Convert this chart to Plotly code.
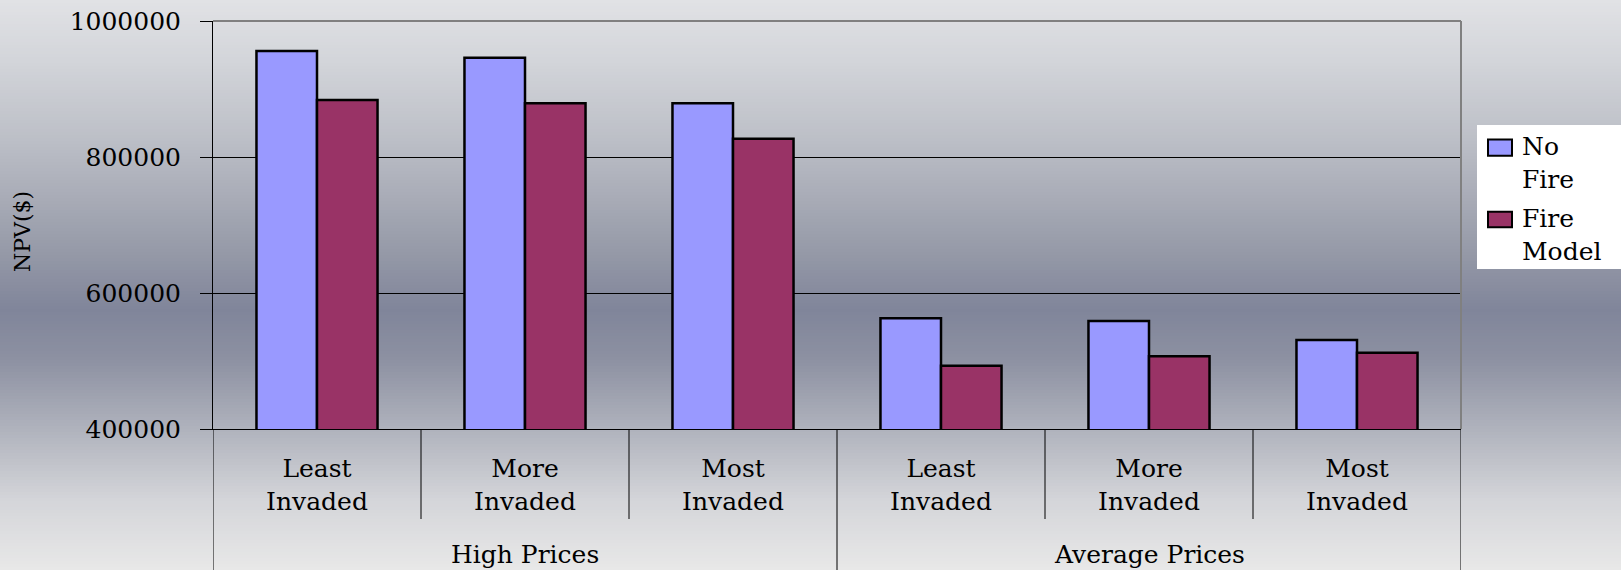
import plotly.graph_objects as go

# ---- data ----
categories = ["Least<br>Invaded", "More<br>Invaded", "Most<br>Invaded",
              "Least<br>Invaded", "More<br>Invaded", "Most<br>Invaded"]
groups = ["High Prices", "Average Prices"]
no_fire = [956000, 946000, 879000, 563000, 559000, 531000]
fire_model = [884000, 879000, 827000, 493000, 507000, 512000]
y_ticks = [400000, 600000, 800000, 1000000]
y_ticktext = ["400000", "600000", "800000", "1000000"]
series_names = ["No<br>Fire", "Fire<br>Model"]
series_colors = ["#9999FF", "#993366"]

# ---- geometry (pixels) ----
W, H = 1621, 570
ML, MR, MT, MB = 213, 160, 21, 141
PW = W - ML - MR
PH = H - MT - MB
FONT = "DejaVu Serif"
FS = 25


def px(X):
    return (X - ML) / PW


def py(Y):
    return (H - MB - Y) / PH


idx = list(range(len(categories)))

fig = go.Figure()
for name, vals, col in zip(series_names, [no_fire, fire_model], series_colors):
    fig.add_trace(go.Bar(x=idx, y=vals, name=name, hoverinfo="skip",
                         marker=dict(color=col, line=dict(color="black", width=2.5))))

shapes = []
# background vertical gradient
stops = [(0, (225, 226, 229)), (60, (211, 213, 218)), (150, (185, 188, 196)),
         (250, (150, 154, 168)), (310, (128, 133, 154)), (360, (141, 145, 162)),
         (430, (176, 179, 189)), (500, (212, 213, 217)), (570, (232, 232, 232))]


def col_at(y):
    for (y0, c0), (y1, c1) in zip(stops[:-1], stops[1:]):
        if y0 <= y <= y1:
            t = (y - y0) / (y1 - y0)
            return "rgb(%d,%d,%d)" % tuple(round(a + (b - a) * t) for a, b in zip(c0, c1))
    return "rgb(232,232,232)"


step = 3
for Y in range(0, H, step):
    shapes.append(dict(type="rect", xref="paper", yref="paper", layer="below",
                       x0=px(0), x1=px(W), y0=py(Y + step + 1), y1=py(Y),
                       fillcolor=col_at(Y + step / 2), line=dict(width=0)))

# plot-area border (top and right, gray)
shapes.append(dict(type="line", xref="paper", yref="paper", layer="above",
                   x0=0, x1=1, y0=1, y1=1, line=dict(color="#808080", width=2)))
shapes.append(dict(type="line", xref="paper", yref="paper", layer="above",
                   x0=1, x1=1, y0=0, y1=1, line=dict(color="#808080", width=2)))

# category dividers
n = len(categories)
for k in range(n + 1):
    xb = k - 0.5
    if k % 3 == 0:
        y_end = py(H + 5)
    else:
        y_end = py(519)
    shapes.append(dict(type="line", xref="x", yref="paper", layer="above",
                       x0=xb, x1=xb, y0=0, y1=y_end, line=dict(color="black", width=1)))

# legend box
shapes.append(dict(type="rect", xref="paper", yref="paper", layer="above",
                   x0=px(1477), x1=px(1700), y0=py(269), y1=py(125),
                   fillcolor="white", line=dict(width=0)))
leg_sq = [(139.5, 155.7), (211.7, 227.3)]
for (y0, y1), c in zip(leg_sq, series_colors):
    shapes.append(dict(type="rect", xref="paper", yref="paper", layer="above",
                       x0=px(1488), x1=px(1512), y0=py(y1), y1=py(y0),
                       fillcolor=c, line=dict(color="black", width=2)))

annotations = []
leg_centers = [163, 235]
for name, yc in zip(series_names, leg_centers):
    annotations.append(dict(text=name, xref="paper", yref="paper", x=px(1520), y=py(yc),
                            xanchor="left", yanchor="middle", align="left", showarrow=False,
                            font=dict(family=FONT, size=FS, color="black")))

# group labels
for g, gname in enumerate(groups):
    annotations.append(dict(text=gname, xref="x", yref="paper", x=g * 3 + 1, y=py(554),
                            xanchor="center", yanchor="middle", showarrow=False,
                            font=dict(family=FONT, size=FS, color="black")))

# y title
annotations.append(dict(text="NPV($)", xref="paper", yref="paper", x=px(23), y=py(232),
                        xanchor="center", yanchor="middle", textangle=-90, showarrow=False,
                        font=dict(family=FONT, size=FS - 3, color="black")))

fig.update_layout(
    width=W, height=H,
    margin=dict(l=ML, r=MR, t=MT, b=MB, autoexpand=False),
    paper_bgcolor="rgb(200,202,208)",
    plot_bgcolor="rgba(0,0,0,0)",
    barmode="group", bargap=0.418, bargroupgap=0,
    showlegend=False,
    font=dict(family=FONT, size=FS, color="black"),
    shapes=shapes, annotations=annotations,
    xaxis=dict(range=[-0.5, n - 0.5], tickvals=idx, ticktext=categories,
               showgrid=False, zeroline=False, showline=True, linecolor="black",
               linewidth=1, ticks="", ticklabelstandoff=17,
               tickfont=dict(family=FONT, size=FS, color="black")),
    yaxis=dict(range=[400000, 1000000], tickvals=y_ticks, ticktext=y_ticktext,
               showgrid=True, gridcolor="black", gridwidth=1, zeroline=False,
               showline=True, linecolor="black", linewidth=1,
               ticks="outside", ticklen=12, tickcolor="black", tickwidth=1,
               ticklabelstandoff=14,
               tickfont=dict(family=FONT, size=FS, color="black")),
)

fig.write_html("out.html", config={"displayModeBar": False},
               post_script="document.body.style.margin='0';document.body.style.overflow='hidden';")
